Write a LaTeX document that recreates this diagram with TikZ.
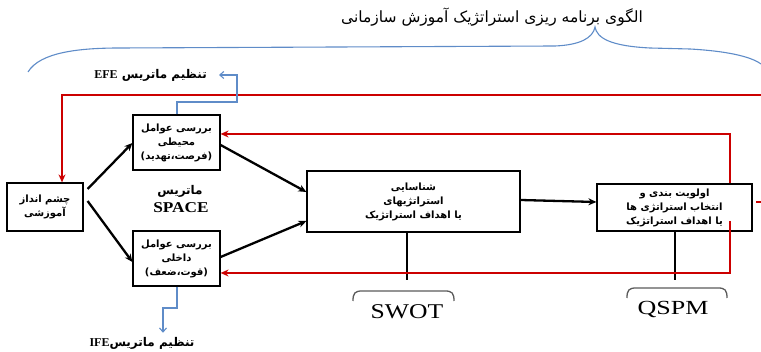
\documentclass[tikz,border=0pt]{standalone}
\usepackage{fontspec}
\usepackage{graphicx}
\setmainfont{Liberation Serif}
\newfontfamily\fa[Script=Arabic]{DejaVu Sans}
\TeXXeTstate=1
\usetikzlibrary{arrows.meta}
\definecolor{myred}{RGB}{204,0,0}
\definecolor{myblue}{RGB}{95,140,200}
\definecolor{brgray}{RGB}{90,90,90}
\newcommand{\rl}[1]{\beginR #1\endR}
\tikzset{
  box/.style={draw=black, line width=1.2pt, fill=white, inner sep=0pt, align=center, font=\fa\bfseries\fontsize{10}{14}\selectfont},
  blk/.style={draw=black, line width=2.3pt, -{Stealth[length=8pt,width=7pt]}},
  stem/.style={draw=black, line width=1.1pt},
  redl/.style={draw=myred, line width=2.3pt},
  reda/.style={draw=myred, line width=2.3pt, -{Stealth[length=8pt,width=7pt]}},
  bluel/.style={draw=myblue, line width=1.1pt},
  bluea/.style={draw=myblue, line width=1.1pt, -{Straight Barb[length=4pt,width=7pt]}},
  brace/.style={draw=brgray, line width=1.3pt},
  lbl/.style={inner sep=0pt, font=\fa\bfseries\fontsize{12}{13}\selectfont}
}
\begin{document}
\begin{tikzpicture}[x=1pt,y=-1pt]
\useasboundingbox (0,0) rectangle (761,352);
% title and big brace
\node[inner sep=0pt, font=\fa\fontsize{15.5}{17}\selectfont] (title) at (492,17) {\rl{الگوی برنامه ریزی استراتژیک  آموزش سازمانی}};
\draw[bluel] (28,72) .. controls (40,52) and (80,48) .. (120,48) -- (555,46) .. controls (580,45) and (593,38) .. (595,27) .. controls (597,38) and (610,46) .. (650,48) -- (690,49) .. controls (725,51) and (750,56) .. (761,64);
% boxes
\node[box, minimum width=76pt, minimum height=48pt] (vis) at (45,207) {\rl{چشم انداز}\\\rl{آموزشی}};
\node[box, minimum width=87pt, minimum height=55pt] (env) at (176.5,142.5) {\rl{بررسی  عوامل}\\\rl{محیطی}\\\rl{(فرصت،تهدید)}};
\node[box, minimum width=87pt, minimum height=55pt] (int) at (176.5,258.5) {\rl{بررسی  عوامل}\\\rl{داخلی}\\\rl{(قوت،ضعف)}};
\node[box, minimum width=213pt, minimum height=61pt] (mid) at (413.5,201.5) {\rl{شناسایی}\\\rl{استراتژیهای}\\\rl{یا اهداف استراتژیک}};
\node[box, minimum width=155pt, minimum height=47pt] (qs) at (674.5,207.5) {\rl{اولویت  بندی  و}\\\rl{انتخاب استراتژی  ها}\\\rl{یا اهداف استراتژیک}};
% SPACE label
\node[lbl] (spm) at (180,191) {\rl{ماتریس}};
\node[inner sep=0pt, font=\bfseries\fontsize{15}{16}\selectfont] (space) at (181,208) {\scalebox{1.15}[1]{SPACE}};
% black arrows
\draw[blk] ([xshift=4pt,yshift=18pt]vis.east) -- ([yshift=-0.5pt]env.west);
\draw[blk] ([xshift=4pt,yshift=6pt]vis.east) -- ([yshift=-3.5pt]int.west);
\draw[blk] ([yshift=-2.5pt]env.east) -- ([yshift=9.5pt]mid.west);
\draw[blk] ([yshift=1.5pt]int.east) -- ([yshift=-19.5pt]mid.west);
\draw[blk] ([yshift=1.5pt]mid.east) -- ([yshift=5.5pt]qs.west);
% stems and braces
\coordinate (sw) at (407,280);
\coordinate (qe) at (675,280);
\draw[stem] (sw |- mid.south) -- (sw);
\draw[stem] (qe |- qs.south) -- (qe);
\draw[brace] (353,301) .. controls (353,293) and (355,291) .. (362,291) -- (445,291) .. controls (452,291) and (454,293) .. (454,301);
\draw[brace] (627,298) .. controls (627,290) and (629,288) .. (636,288) -- (718,288) .. controls (725,288) and (727,290) .. (727,298);
\node[inner sep=0pt, font=\fontsize{21}{22}\selectfont] (swot) at (407,312) {\scalebox{1.22}[1]{SWOT}};
\node[inner sep=0pt, font=\fontsize{20}{22}\selectfont] (qspm) at (673,310) {\scalebox{1.3}[1]{QSPM}};
% red feedback lines
\coordinate (r1) at (761,95);
\coordinate (r0) at (62,95);
\draw[reda] (r1) -- (r0) -- (r0 |- vis.north);
\coordinate (ra) at (730,134);
\draw[reda] (ra |- qs.north) -- (ra) -- (ra -| env.east);
\coordinate (rc) at (730,221);
\coordinate (rb) at (730,273);
\draw[reda] (rc) -- (rb) -- (rb -| int.east);
\coordinate (rt1) at (756,202);
\coordinate (rt2) at (761,202);
\draw[redl] (rt1) -- (rt2);
% blue EFE / IFE
\node[lbl, anchor=east] (efe) at (207,75) {\rl{تنظیم ماتریس \beginL\normalfont\bfseries\fontsize{12}{13}\selectfont EFE\endL}};
\coordinate (b1) at (237,102);
\draw[bluea] ([xshift=0.5pt]env.north) |- (b1) |- ([xshift=12pt]efe.east);
\node[lbl] (ife) at (142,343) {\rl{تنظیم ماتریس\beginL\normalfont\bfseries\fontsize{12}{13}\selectfont IFE\endL}};
\coordinate (b2) at (163,308);
\draw[bluea] ([xshift=0.5pt]int.south) |- (b2) -- ([yshift=4pt]b2 |- ife.north);
\end{tikzpicture}
\end{document}
